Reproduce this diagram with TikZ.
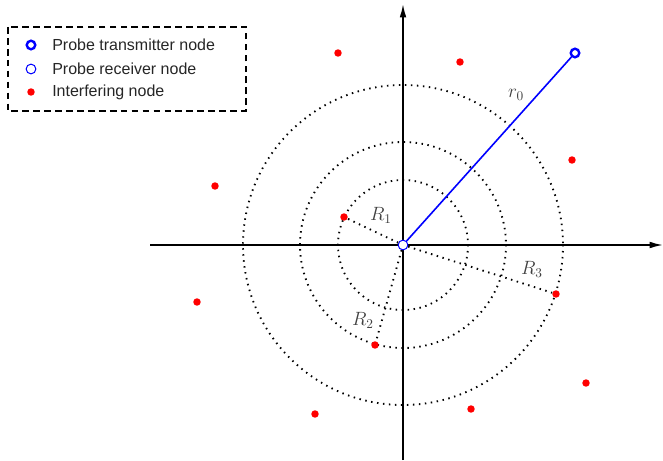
\documentclass[tikz,border=0pt]{standalone}
\usepackage{amsmath}
\usepackage{fontspec}
\newfontfamily\legendfont{Liberation Sans}
\usetikzlibrary{arrows.meta}

\begin{document}
\begin{tikzpicture}[x=0.75pt,y=-0.75pt,
  every node/.style={inner sep=0pt},
  axis/.style={line width=1.2pt,-{Latex[length=10pt,width=5pt]}},
  ring/.style={line width=1.4pt,dash pattern=on 1.1pt off 3.4pt},
  probe/.style={blue,line width=1.2pt},
  legendbox/.style={line width=0.9pt,dash pattern=on 5pt off 3.2pt},
  interferer/.style={circle,fill=red,minimum size=5.6pt},
  receiver/.style={circle,draw=blue,fill=white,line width=0.75pt,minimum size=7.3pt},
  transmitter/.style={circle,draw=blue,fill=white,line width=1.8pt,minimum size=6.4pt},
  dist/.style={text=black!75,font=\fontsize{14.5}{17}\selectfont},
  legendtext/.style={anchor=west,text=black!85,font=\legendfont\fontsize{12}{14}\selectfont}]
  \useasboundingbox (0,0) rectangle (663,460);
  % axes
  \coordinate (o) at (403,245);
  \coordinate (xl) at (150,245);
  \coordinate (xr) at (663,245);
  \coordinate (yb) at (403,460);
  \coordinate (yt) at (403,4);
  \draw[axis] (xl) -- (xr);
  \draw[axis] (yb) -- (yt);
  % rings round the receiver
  \draw[ring] (o) circle[radius=65];
  \draw[ring] (o) circle[radius=103];
  \draw[ring] (o) circle[radius=160];
  % nodes
  \node[receiver] (rx) at (o) {};
  \node[transmitter] (tx) at (575,53) {};
  \node[interferer] (i1) at (338,53) {};
  \node[interferer] (i2) at (460,62) {};
  \node[interferer] (i3) at (572,160) {};
  \node[interferer] (i4) at (215,186) {};
  \node[interferer] (i5) at (344,217) {};
  \node[interferer] (i6) at (197,302) {};
  \node[interferer] (i7) at (556,294) {};
  \node[interferer] (i8) at (375,345) {};
  \node[interferer] (i9) at (586,383) {};
  \node[interferer] (i10) at (315,414) {};
  \node[interferer] (i11) at (471,409) {};
  % distances
  \draw[probe] (rx) -- (tx);
  \draw[ring] (rx) -- (i5);
  \draw[ring] (rx) -- (i8);
  \draw[ring] (rx) -- (i7);
  \node[dist] (r0) at (516,95) {$r_0$};
  \node[dist] (d1) at (381,215) {$R_1$};
  \node[dist] (d2) at (363,320) {$R_2$};
  \node[dist] (d3) at (532,269) {$R_3$};
  % legend
  \draw[legendbox,fill=white] (8,27) rectangle (246,111);
  \node[transmitter] (lt) at (31,45) {};
  \node[receiver] (lr) at (31,69) {};
  \node[interferer] (li) at (31,92) {};
  \node[legendtext] (ltt) at (52,45) {Probe transmitter node};
  \node[legendtext] (lrt) at (52,69) {Probe receiver node};
  \node[legendtext] (lit) at (52,92) {Interfering node};
\end{tikzpicture}
\end{document}
